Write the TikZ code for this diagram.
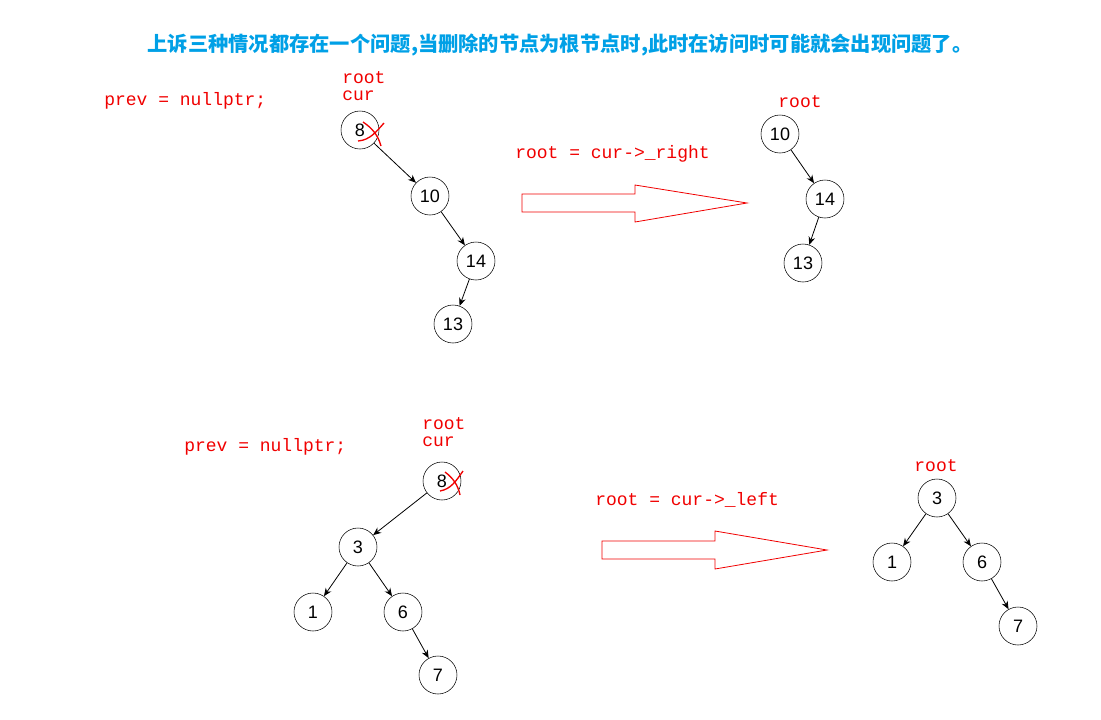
\documentclass[tikz,border=0pt]{standalone}
\usepackage{fontspec}
\setmainfont{Liberation Sans}
\newfontfamily\cjk{Noto Sans CJK SC}
\newfontfamily\codef{Liberation Mono}
\usetikzlibrary{arrows.meta}
\definecolor{titleblue}{RGB}{0,160,230}
\definecolor{codered}{RGB}{240,0,0}
\begin{document}
\begin{tikzpicture}[x=0.75pt,y=-0.75pt,
  nd/.style={draw,circle,minimum size=28.5pt,inner sep=0pt,font=\fontsize{13.5}{13.5}\selectfont},
  code/.style={text=codered,font=\codef\fontsize{13.5}{13.5}\selectfont,inner sep=0pt},
  edge/.style={-{Stealth[length=6pt,width=5pt]},line width=0.6pt},
  bigarrow/.style={draw=codered,line width=0.6pt},
  xmark/.style={draw=codered,line width=1pt}]
\useasboundingbox (0,0) rectangle (1101,719);
\node[text=titleblue,font=\cjk\bfseries\fontsize{15.2}{15.2}\selectfont] (title) at (560,45) {上诉三种情况都存在一个问题,当删除的节点为根节点时,此时在访问时可能就会出现问题了。};
% top left tree
\node[code,anchor=west] (prev1) at (104,101) {prev = nullptr;};
\node[code,anchor=west] (r1) at (342,78) {root};
\node[code,anchor=west] (c1) at (342,96) {cur};
\node[nd] (a8) at (360,130) {8};
\node[nd] (a10) at (430,196) {10};
\node[nd] (a14) at (476,261) {14};
\node[nd] (a13) at (453,324) {13};
\draw[edge] (a8) -- (a10);
\draw[edge] (a10) -- (a14);
\draw[edge] (a14) -- (a13);
\draw[xmark] (363,122) .. controls (372,128) and (378,135) .. (381,146);
\draw[xmark] (384,123) .. controls (376,132) and (370,140) .. (358,141);
\node[code,anchor=west] (op1) at (515,154) {root = cur->\_right};
\draw[bigarrow] (522,194) -- (635,194) -- (635,185) -- (747,203) -- (635,222) -- (635,212) -- (522,212) -- cycle;
\node[code] (r2) at (800,102) {root};
\node[nd] (b10) at (780,134) {10};
\node[nd] (b14) at (825,199) {14};
\node[nd] (b13) at (803,263) {13};
\draw[edge] (b10) -- (b14);
\draw[edge] (b14) -- (b13);
% bottom
\node[code,anchor=west] (prev2) at (184,447) {prev = nullptr;};
\node[code,anchor=west] (r3) at (422,424) {root};
\node[code,anchor=west] (c3) at (422,442) {cur};
\node[nd] (c8) at (442,481) {8};
\node[nd] (c3n) at (358,547) {3};
\node[nd] (c1) at (313,612) {1};
\node[nd] (c6) at (403,612) {6};
\node[nd] (c7) at (438,675) {7};
\draw[edge] (c8) -- (c3n);
\draw[edge] (c3n) -- (c1);
\draw[edge] (c3n) -- (c6);
\draw[edge] (c6) -- (c7);
\draw[xmark] (445,472) .. controls (453,478) and (458,485) .. (460,495);
\draw[xmark] (463,471) .. controls (456,481) and (451,489) .. (440,491);
\node[code,anchor=west] (op2) at (595,500) {root = cur->\_left};
\draw[bigarrow] (602,541) -- (715,541) -- (715,531) -- (827,550) -- (715,569) -- (715,559) -- (602,559) -- cycle;
\node[code] (r4) at (936,466) {root};
\node[nd] (d3) at (937,498) {3};
\node[nd] (d1) at (892,562) {1};
\node[nd] (d6) at (982,562) {6};
\node[nd] (d7) at (1018,626) {7};
\draw[edge] (d3) -- (d1);
\draw[edge] (d3) -- (d6);
\draw[edge] (d6) -- (d7);
\end{tikzpicture}
\end{document}
